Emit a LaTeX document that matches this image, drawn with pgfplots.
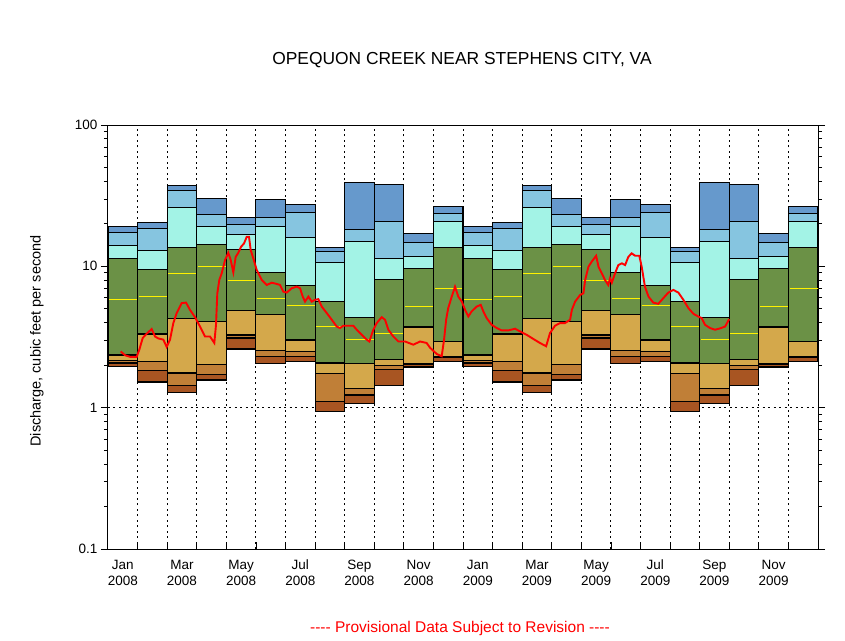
\documentclass[border=0pt]{standalone}
\usepackage{fontspec}
\setmainfont{Liberation Sans}
\usepackage{pgfplots}
\usepackage{pgfplotstable}
\pgfplotsset{compat=1.18}

\definecolor{dkblue}{HTML}{6699CC}
\definecolor{ltblue}{HTML}{86C5E0}
\definecolor{cyanb}{HTML}{A3F3E6}
\definecolor{greenb}{HTML}{6B9146}
\definecolor{tanb}{HTML}{D4A84B}
\definecolor{orb}{HTML}{C07F37}
\definecolor{brb}{HTML}{A85522}

% monthly percentiles, max down to min (b0..b7), med = median
\pgfplotstableread{
m  b0   b1    b2    b3    med   b4   b5   b6   b7
0  19.1 17.35 14.06 11.39 5.86  2.36 2.15 2.07 1.96
1  20.4 18.5  12.96 9.52  6.15  3.32 2.11 1.82 1.52
2  37.2 34.3  26.0  13.6  8.93  4.30 1.76 1.43 1.28
3  30.1 23.2  19.1  14.3  10.05 4.10 2.01 1.71 1.57
4  22.1 19.8  16.8  13.2  7.97  4.90 3.27 3.11 2.60
5  29.6 22.1  19.1  9.07  5.95  4.59 2.52 2.29 2.04
6  27.3 24.0  16.0  7.35  5.31  3.01 2.48 2.29 2.11
7  13.6 12.75 10.67 5.67  3.78  2.07 1.74 1.10 0.937
8  39.0 18.2  15.0  4.37  3.06  2.04 1.36 1.23 1.07
9  37.8 20.7  11.39 8.10  3.37  2.18 1.98 1.85 1.43
10 17.1 14.8  11.76 9.68  5.23  3.72 2.04 2.01 1.94
11 26.5 23.6  20.7  13.6  7.0   2.92 2.29 2.25 2.13
}\bands

% daily flow, x in months from Jan 2008
\pgfplotstableread{
x q
0.429 2.50
0.575 2.35
0.744 2.29
0.970 2.29
1.058 2.57
1.173 3.11
1.308 3.34
1.477 3.60
1.589 3.19
1.700 3.09
1.870 3.03
1.984 2.69
2.096 3.03
2.208 3.97
2.322 4.67
2.491 5.49
2.637 5.54
2.772 4.92
2.941 4.37
3.110 3.75
3.279 3.19
3.448 3.19
3.594 2.87
3.651 3.86
3.695 6.45
3.763 8.01
3.844 8.93
3.956 11.08
4.067 12.47
4.148 11.08
4.236 9.07
4.317 11.68
4.405 12.47
4.496 13.74
4.598 14.52
4.689 16.16
4.767 16.16
4.824 13.02
4.912 11.39
5.027 9.42
5.196 8.01
5.365 7.38
5.534 7.66
5.703 7.51
5.815 7.38
5.926 6.62
6.041 6.52
6.210 7.00
6.379 7.18
6.491 7.00
6.582 6.11
6.660 5.63
6.772 6.11
6.886 5.63
6.998 5.79
7.110 5.86
7.225 5.19
7.394 4.67
7.563 4.19
7.732 3.75
7.843 3.66
7.955 3.80
8.124 3.80
8.293 3.80
8.408 3.56
8.577 3.28
8.746 3.03
8.834 2.94
8.969 3.56
9.084 3.97
9.253 4.37
9.364 4.19
9.476 3.56
9.645 3.19
9.814 2.94
10.04 2.94
10.32 2.79
10.55 2.94
10.77 2.87
10.89 2.65
11.11 2.40
11.28 2.31
11.36 3.03
11.43 4.19
11.50 5.06
11.62 6.11
11.73 7.18
11.84 6.11
11.96 5.63
12.07 4.92
12.18 4.42
12.29 4.79
12.46 5.19
12.60 5.34
12.69 4.79
12.80 4.30
12.97 3.86
13.14 3.66
13.31 3.52
13.53 3.52
13.76 3.62
13.93 3.46
14.15 3.28
14.38 3.06
14.60 2.87
14.81 2.72
14.94 3.37
15.11 3.80
15.28 3.97
15.45 3.97
15.62 4.19
15.68 4.92
15.79 5.63
15.96 6.28
16.07 6.45
16.13 8.01
16.24 9.94
16.35 10.78
16.50 11.88
16.58 9.94
16.69 8.93
16.80 8.01
16.91 7.38
16.97 8.23
17.03 7.66
17.14 8.93
17.25 10.21
17.37 10.50
17.48 10.21
17.59 11.68
17.70 12.35
17.82 11.88
17.96 11.88
18.04 9.94
18.15 7.18
18.27 6.11
18.43 5.54
18.60 5.43
18.77 5.95
18.94 6.52
19.11 6.81
19.28 6.52
19.45 5.79
19.62 5.06
19.79 4.61
19.95 4.42
20.07 4.30
20.18 3.86
20.35 3.66
20.52 3.56
20.69 3.64
20.86 3.75
21.00 4.24
}\flow

\newcommand\bandrect[5]{%
  \edef\tmp{\noexpand\addplot[draw=black, fill=#5, line width=1.1pt]
    coordinates {(#1,#3) (#2,#3) (#2,#4) (#1,#4)} -- cycle;}\tmp}

\newcommand\monthbox[1]{%
  \pgfmathtruncatemacro\mrow{mod(#1,12)}%
  \pgfmathtruncatemacro\mnext{#1+1}%
  \pgfplotstablegetelem{\mrow}{b0}\of\bands\let\qa\pgfplotsretval
  \pgfplotstablegetelem{\mrow}{b1}\of\bands\let\qb\pgfplotsretval
  \pgfplotstablegetelem{\mrow}{b2}\of\bands\let\qc\pgfplotsretval
  \pgfplotstablegetelem{\mrow}{b3}\of\bands\let\qd\pgfplotsretval
  \pgfplotstablegetelem{\mrow}{med}\of\bands\let\qm\pgfplotsretval
  \pgfplotstablegetelem{\mrow}{b4}\of\bands\let\qe\pgfplotsretval
  \pgfplotstablegetelem{\mrow}{b5}\of\bands\let\qf\pgfplotsretval
  \pgfplotstablegetelem{\mrow}{b6}\of\bands\let\qg\pgfplotsretval
  \pgfplotstablegetelem{\mrow}{b7}\of\bands\let\qh\pgfplotsretval
  \bandrect{#1}{\mnext}{\qa}{\qb}{dkblue}%
  \bandrect{#1}{\mnext}{\qb}{\qc}{ltblue}%
  \bandrect{#1}{\mnext}{\qc}{\qd}{cyanb}%
  \bandrect{#1}{\mnext}{\qd}{\qe}{greenb}%
  \bandrect{#1}{\mnext}{\qe}{\qf}{tanb}%
  \bandrect{#1}{\mnext}{\qf}{\qg}{orb}%
  \bandrect{#1}{\mnext}{\qg}{\qh}{brb}%
  \edef\tmp{\noexpand\addplot[yellow, line width=1pt]
    coordinates {(#1.04,\qm) (\mnext.96,\qm)};}\tmp
}

\begin{document}
\begin{tikzpicture}
\useasboundingbox (-108pt,-91pt) rectangle (737pt,549pt);
\begin{axis}[
  scale only axis, width=710pt, height=424pt,
  xmin=0, xmax=24,
  ymode=log, ymin=0.1, ymax=100,
  axis line style={line width=1pt},
  xtick={1,...,23}, xticklabels={},
  xtick pos=left, ytick pos=both,
  xtick align=inside, ytick align=outside,
  major tick length=7pt, minor tick length=4pt,
  tick style={black, line width=0.8pt},
  ytick={0.1,1,10,100}, yticklabels={0.1,1,10,100},
  minor ytick={0.2,0.3,0.4,0.5,0.6,0.7,0.8,0.9,2,3,4,5,6,7,8,9,20,30,40,50,60,70,80,90},
  xmajorgrids, ymajorgrids,
  grid style={black, line width=0.9pt, dash pattern=on 2pt off 3.5pt},
  extra x ticks={0.5,2.5,...,22.5},
  extra x tick labels={{\strut Jan\\\strut 2008},{\strut Mar\\\strut 2008},{\strut May\\\strut 2008},{\strut Jul\\\strut 2008},{\strut Sep\\\strut 2008},{\strut Nov\\\strut 2008},{\strut Jan\\\strut 2009},{\strut Mar\\\strut 2009},{\strut May\\\strut 2009},{\strut Jul\\\strut 2009},{\strut Sep\\\strut 2009},{\strut Nov\\\strut 2009}},
  extra x tick style={grid=none, major tick length=0pt},
  xticklabel style={font=\fontsize{13.5}{16}\selectfont, align=center, yshift=-6pt},
  yticklabel style={font=\fontsize{13.5}{16}\selectfont},
]
\pgfplotsinvokeforeach{0,...,23}{\monthbox{#1}}
\addplot[red, line width=1.9pt] table[x=x, y=q] {\flow};
\end{axis}
\node[font=\fontsize{17.4}{20}\selectfont] at (354pt,489pt) {OPEQUON CREEK NEAR STEPHENS CITY, VA};
\node[font=\fontsize{14.5}{17}\selectfont, rotate=90] at (-71pt,208pt) {Discharge, cubic feet per second};
\node[font=\fontsize{15.5}{18}\selectfont, text=red] at (352pt,-79pt) {-{}-{}-{}- Provisional Data Subject to Revision -{}-{}-{}-};
\end{tikzpicture}
\end{document}
